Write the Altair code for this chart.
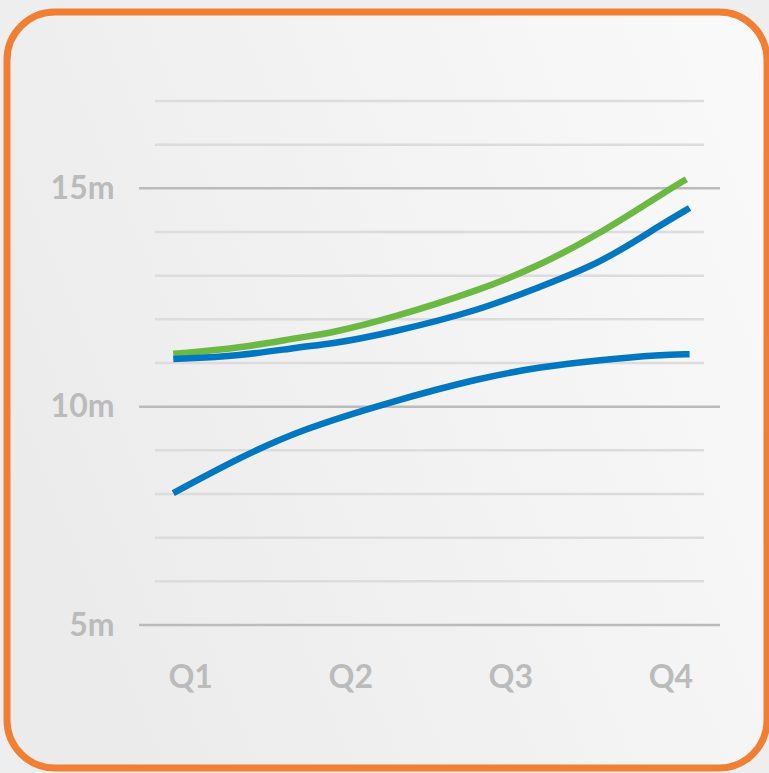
import altair as alt
import pandas as pd

# Quarter positions (0 = Q1 ... 3 = Q4) and values in millions
green_x = [-0.106, 0.3125, 0.6875, 0.875, 1.25, 1.8125, 2.1875, 2.5625, 2.9375, 3.10]
green_y = [11.21, 11.34, 11.59, 11.68, 12.02, 12.67, 13.24, 13.97, 14.85, 15.21]

blue_up_x = [-0.106, 0.3125, 0.6875, 0.875, 1.25, 1.8125, 2.1875, 2.5625, 2.9375, 3.12]
blue_up_y = [11.09, 11.16, 11.37, 11.43, 11.69, 12.21, 12.75, 13.28, 14.16, 14.55]

blue_lo_x = [-0.106, 0.3125, 0.6875, 1.25, 1.8125, 2.1875, 2.5625, 2.9375, 3.12]
blue_lo_y = [8.02, 8.84, 9.47, 10.11, 10.66, 10.91, 11.07, 11.19, 11.20]

quarter_labels = ["Q1", "Q2", "Q3", "Q4"]
major_ticks = [5, 10, 15]
minor_ticks = [6, 7, 8, 9, 11, 12, 13, 14, 16, 17]

rows = []
for name, xs, ys in [("A", green_x, green_y), ("B", blue_up_x, blue_up_y), ("C", blue_lo_x, blue_lo_y)]:
    for i, (xv, yv) in enumerate(zip(xs, ys)):
        rows.append({"series": name, "q": xv, "value": yv, "idx": i})
lines_df = pd.DataFrame(rows)
minor_df = pd.DataFrame({"value": minor_ticks})
major_df = pd.DataFrame({"value": major_ticks})
frame_df = pd.DataFrame({"k": [0]})

W, H = 581, 524
FONT = "Lato"
LABEL_COLOR = "#bbbbbb"

xscale = alt.Scale(domain=[-0.32, 3.31], nice=False, zero=False)
yscale = alt.Scale(domain=[5, 17], nice=False, zero=False)

frame = alt.Chart(frame_df).mark_rect(
    cornerRadius=48,
    stroke="#f07f33",
    strokeWidth=7,
    fill=alt.Gradient(
        gradient="linear",
        stops=[alt.GradientStop(color="#ebebeb", offset=0),
               alt.GradientStop(color="#f9f9f9", offset=1)],
        x1=0, x2=1, y1=0.6, y2=0.2,
    ),
).encode(
    x=alt.value(-132), x2=alt.value(628),
    y=alt.value(-89), y2=alt.value(667),
)

minor = alt.Chart(minor_df).mark_rule(color="#dcdcdc", strokeWidth=2.5).encode(
    y=alt.Y("value:Q", scale=yscale),
    x=alt.value(16), x2=alt.value(W - 16),
)

major = alt.Chart(major_df).mark_rule(color="#bbbbbb", strokeWidth=2.5).encode(
    y=alt.Y("value:Q", scale=yscale),
    x=alt.value(0), x2=alt.value(W),
)

lines = alt.Chart(lines_df).mark_line(
    interpolate="basis", strokeWidth=6.5, strokeCap="butt"
).encode(
    x=alt.X("q:Q", scale=xscale,
            axis=alt.Axis(values=[0, 1, 2, 3], labelExpr="['Q1','Q2','Q3','Q4'][datum.value]",
                          grid=False, domain=False, ticks=False, title=None, zindex=1,
                          labelFont=FONT, labelFontSize=32, labelFontWeight="bold",
                          labelColor=LABEL_COLOR, labelPadding=37)),
    y=alt.Y("value:Q", scale=yscale,
            axis=alt.Axis(values=major_ticks, labelExpr="datum.value + 'm'",
                          grid=False, domain=False, ticks=False, title=None, zindex=1,
                          labelFont=FONT, labelFontSize=32, labelFontWeight="bold",
                          labelColor=LABEL_COLOR, labelPadding=25)),
    color=alt.Color("series:N", scale=alt.Scale(domain=["A", "B", "C"],
                                                range=["#6bb843", "#0077c0", "#0077c0"]),
                    legend=None),
    order=alt.Order("idx:Q"),
)

chart = alt.layer(frame, minor, major, lines).properties(
    width=W, height=H,
    autosize=alt.AutoSizeParams(type="none"),
    padding={"left": 139, "top": 101, "right": 49, "bottom": 148},
    background="#eeeeee",
).configure_view(stroke=None)

chart.save("out.html", embed_options={"renderer": "svg", "actions": False})
